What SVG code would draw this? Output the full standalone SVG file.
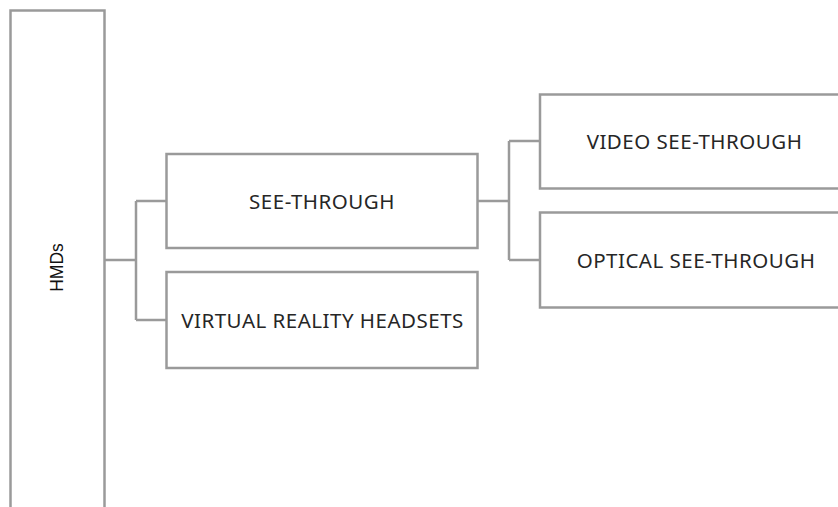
<svg xmlns="http://www.w3.org/2000/svg" width="838" height="507" viewBox="0 0 838 507">
  <style>
    .box { fill: #ffffff; stroke: #9a9a9a; stroke-width: 2.5; }
    .link { fill: none; stroke: #9a9a9a; stroke-width: 2.5; }
    .label { font-family: "Noto Sans", "Liberation Sans", sans-serif; font-size: 20.5px; letter-spacing: 0.5px; fill: #262626; text-anchor: middle; dominant-baseline: central; }
    .side { font-family: "Liberation Sans", Arial, sans-serif; font-size: 17.5px; fill: #111111; text-anchor: middle; dominant-baseline: central; }
  </style>
  <rect width="838" height="507" fill="#ffffff"/>

  <g id="connectors">
    <path class="link" d="M105,260 H136 M136,201 V320 M136,201 H166 M136,320 H166"/>
    <path class="link" d="M478,201 H509 M509,141 V260 M509,141 H540 M509,260 H540"/>
  </g>

  <g id="hmds">
    <rect class="box" x="10.5" y="10.5" width="94" height="517"/>
    <text class="side" transform="translate(56.5,267.5) rotate(-90)" x="0" y="0">HMDs</text>
  </g>

  <g id="see-through">
    <rect class="box" x="166.5" y="154" width="311" height="94"/>
    <text class="label" x="322" y="201">SEE-THROUGH</text>
  </g>

  <g id="vr-headsets">
    <rect class="box" x="166.5" y="272" width="311" height="96"/>
    <text class="label" x="322.5" y="320">VIRTUAL REALITY HEADSETS</text>
  </g>

  <g id="video-see-through">
    <rect class="box" x="540" y="94.5" width="312" height="94"/>
    <text class="label" x="694.5" y="141">VIDEO SEE-THROUGH</text>
  </g>

  <g id="optical-see-through">
    <rect class="box" x="540" y="212.5" width="312" height="95"/>
    <text class="label" x="696" y="260">OPTICAL SEE-THROUGH</text>
  </g>
</svg>
